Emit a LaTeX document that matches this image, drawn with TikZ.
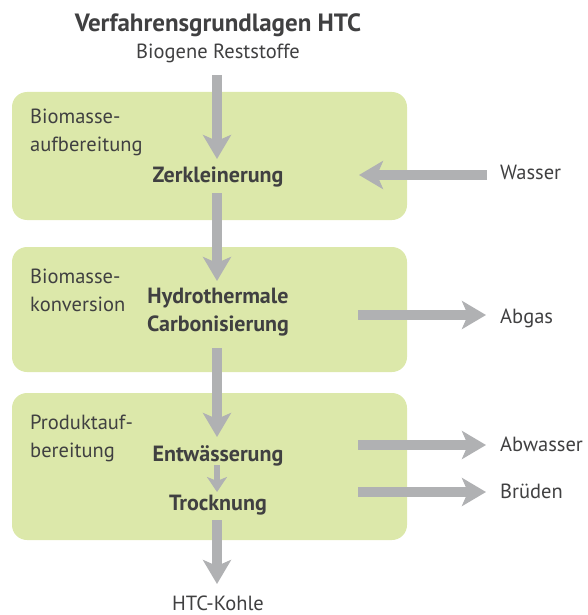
\documentclass[tikz,border=0pt]{standalone}
\usepackage{fontspec}
\setmainfont{PT Sans}
\usetikzlibrary{arrows.meta}
\definecolor{boxgreen}{HTML}{DCE8AA}
\definecolor{arrgray}{HTML}{B0B1B3}
\definecolor{txt}{HTML}{404041}
\tikzset{
  flow/.style={draw=arrgray, line width=10pt, -{Triangle[length=24pt,width=28pt,inset=6pt]}},
  smallflow/.style={draw=arrgray, line width=6pt, -{Triangle[length=15pt,width=20pt,inset=4pt]}},
  lbl/.style={text=txt, font=\fontsize{20.5}{28}\selectfont, inner sep=0pt},
  side/.style={lbl, anchor=west, align=left},
  proc/.style={lbl, font=\bfseries\fontsize{22}{28}\selectfont, align=center},
  stagebox/.style={fill=boxgreen, rounded corners=15pt},
}
\begin{document}
\begin{tikzpicture}[x=1pt,y=-1pt]
\useasboundingbox (0,0) rectangle (587,615);
% boxes
\fill[stagebox] (12,92) rectangle (407,220);
\fill[stagebox] (12,247) rectangle (407,372);
\fill[stagebox] (12,393) rectangle (407,540);
% texts
\node[lbl, anchor=base, font=\bfseries\fontsize{25}{28}\selectfont] (title) at (218,32) {Verfahrensgrundlagen HTC};
\node[lbl, anchor=base] (in) at (218,59) {Biogene Reststoffe};
\node[side] (s1) at (30,132) {Biomasse-\\aufbereitung};
\node[side] (s2) at (30,290) {Biomasse-\\konversion};
\node[side] (s3) at (30,438) {Produktauf-\\bereitung};
\node[proc, anchor=base] (z) at (218,182) {Zerkleinerung};
\node[proc] (h) at (218,312) {Hydrothermale\\Carbonisierung};
\node[proc, anchor=base] (e) at (218,461) {Entwässerung};
\node[proc, anchor=base] (t) at (218,510) {Trocknung};
\node[lbl, anchor=base west] (wasser) at (500,179) {Wasser};
\node[lbl, anchor=base west] (abgas) at (500,323) {Abgas};
\node[lbl, anchor=base west] (abw) at (500,451) {Abwasser};
\node[lbl, anchor=base west] (brud) at (500,498) {Brüden};
\node[lbl, anchor=base] (kohle) at (218,610) {HTC-Kohle};
% coordinates
\coordinate (a1s) at (217,75);
\coordinate (a1e) at (217,159);
\coordinate (a2s) at (217,193);
\coordinate (a2e) at (217,281);
\coordinate (a3s) at (217,348);
\coordinate (a3e) at (217,437);
\coordinate (a4s) at (217,465);
\coordinate (a4e) at (217,492);
\coordinate (a5s) at (217,520);
\coordinate (a5e) at (217,584);
\coordinate (ws) at (487,175);
\coordinate (we) at (359,175);
\coordinate (gs) at (358,315);
\coordinate (ge) at (486,315);
\coordinate (abs) at (358,445);
\coordinate (abe) at (486,445);
\coordinate (bs) at (358,492);
\coordinate (be) at (486,492);
% arrows
\draw[flow] (a1s) -- (a1e);
\draw[flow] (a2s) -- (a2e);
\draw[flow] (a3s) -- (a3e);
\draw[smallflow] (a4s) -- (a4e);
\draw[flow] (a5s) -- (a5e);
\draw[flow] (ws) -- (we);
\draw[flow] (gs) -- (ge);
\draw[flow] (abs) -- (abe);
\draw[flow] (bs) -- (be);
\end{tikzpicture}
\end{document}
